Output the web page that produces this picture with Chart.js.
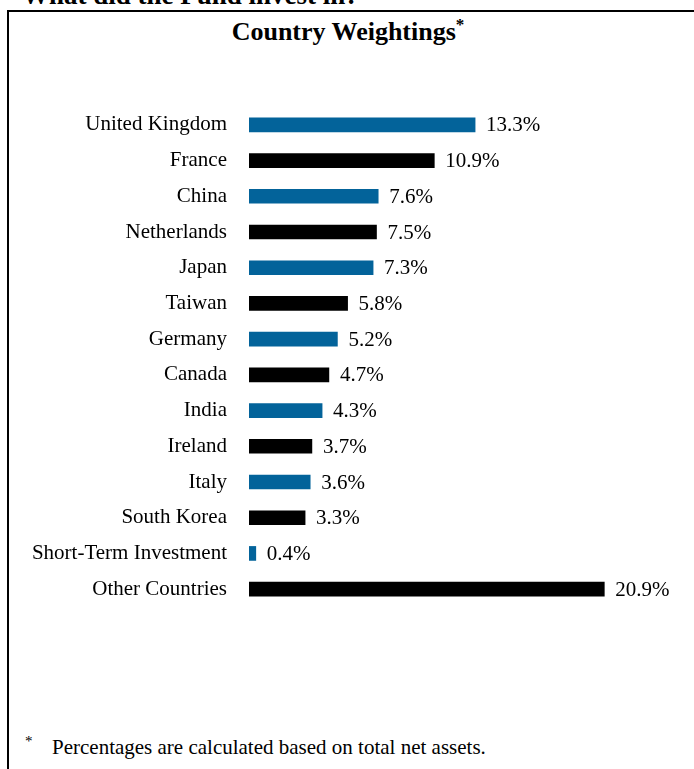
<!DOCTYPE html>
<html lang="en">
<head>
  <meta charset="UTF-8">
  <title>Country Weightings</title>
  <script src="https://cdn.jsdelivr.net/npm/chart.js"></script>
  <style>
    html, body {
      margin: 0;
      padding: 0;
      width: 694px;
      height: 769px;
      overflow: hidden;
      background: #fff;
      font-family: "Liberation Serif", "Times New Roman", serif;
      color: #000;
    }

    .page-heading {
      position: absolute;
      left: 22px;
      top: -18px;
      font-size: 27px;
      line-height: 27px;
      font-weight: bold;
      white-space: nowrap;
    }

    .box {
      position: absolute;
      left: 7px;
      top: 10px;
      width: 720px;
      height: 800px;
      border-left: 2px solid #000;
      border-top: 2px solid #000;
    }

    .title {
      position: absolute;
      left: 0;
      top: 18px;
      width: 696px;
      text-align: center;
      font-size: 26px;
      line-height: 28px;
      font-weight: bold;
    }

    .title sup {
      font-size: 17px;
      line-height: 0;
      vertical-align: 10px;
    }

    .chart-wrap {
      position: absolute;
      left: 0;
      top: 0;
      width: 694px;
      height: 700px;
    }

    .footnote {
      position: absolute;
      left: 25px;
      top: 733px;
      font-size: 21px;
      line-height: 28px;
      white-space: nowrap;
    }

    .footnote .mark {
      position: absolute;
      left: 0;
      top: -6px;
      font-size: 15px;
    }

    .footnote .text {
      margin-left: 27px;
    }
  </style>
</head>
<body>

<div class="page-heading">What did the Fund invest in?</div>
<div class="box"></div>
<div class="title">Country Weightings<sup>*</sup></div>

<div class="chart-wrap">
  <canvas id="weightChart" width="694" height="700"></canvas>
</div>

<div class="footnote"><span class="mark">*</span><span class="text">Percentages are calculated based on total net assets.</span></div>

<script>
  const countries = [
    'United Kingdom', 'France', 'China', 'Netherlands', 'Japan', 'Taiwan', 'Germany',
    'Canada', 'India', 'Ireland', 'Italy', 'South Korea', 'Short-Term Investment', 'Other Countries'
  ];
  const weights = [13.3, 10.9, 7.6, 7.5, 7.3, 5.8, 5.2, 4.7, 4.3, 3.7, 3.6, 3.3, 0.4, 20.9];
  const barColors = countries.map((c, i) => i % 2 === 0 ? '#03639a' : '#000000');

  // draws the "13.3%" labels just after each bar
  const valueLabels = {
    id: 'valueLabels',
    afterDatasetsDraw(chart) {
      const ctx = chart.ctx;
      const meta = chart.getDatasetMeta(0);
      ctx.save();
      ctx.font = '21px "Liberation Serif", "Times New Roman", serif';
      ctx.fillStyle = '#000';
      ctx.textAlign = 'left';
      ctx.textBaseline = 'middle';
      meta.data.forEach((bar, i) => {
        ctx.fillText(weights[i].toFixed(1) + '%', bar.x + 11, bar.y + 1);
      });
      ctx.restore();
    }
  };

  const chartCtx = document.getElementById('weightChart').getContext('2d');
  new Chart(chartCtx, {
    type: 'bar',
    data: {
      labels: countries,
      datasets: [{
        data: weights,
        backgroundColor: barColors,
        borderWidth: 0,
        barThickness: 14
      }]
    },
    options: {
      indexAxis: 'y',
      responsive: false,
      animation: false,
      layout: {
        padding: { left: 0, right: 20, top: 107, bottom: 93 }
      },
      plugins: {
        legend: { display: false },
        tooltip: { enabled: false }
      },
      scales: {
        x: {
          min: 0,
          max: 25,
          display: false
        },
        y: {
          grid: { display: false, drawTicks: false },
          border: { display: false },
          afterFit(scale) {
            scale.width = 249;
          },
          ticks: {
            padding: 22,
            color: '#000',
            font: { family: '"Liberation Serif", "Times New Roman", serif', size: 21 }
          }
        }
      }
    },
    plugins: [valueLabels]
  });
</script>

</body>
</html>
